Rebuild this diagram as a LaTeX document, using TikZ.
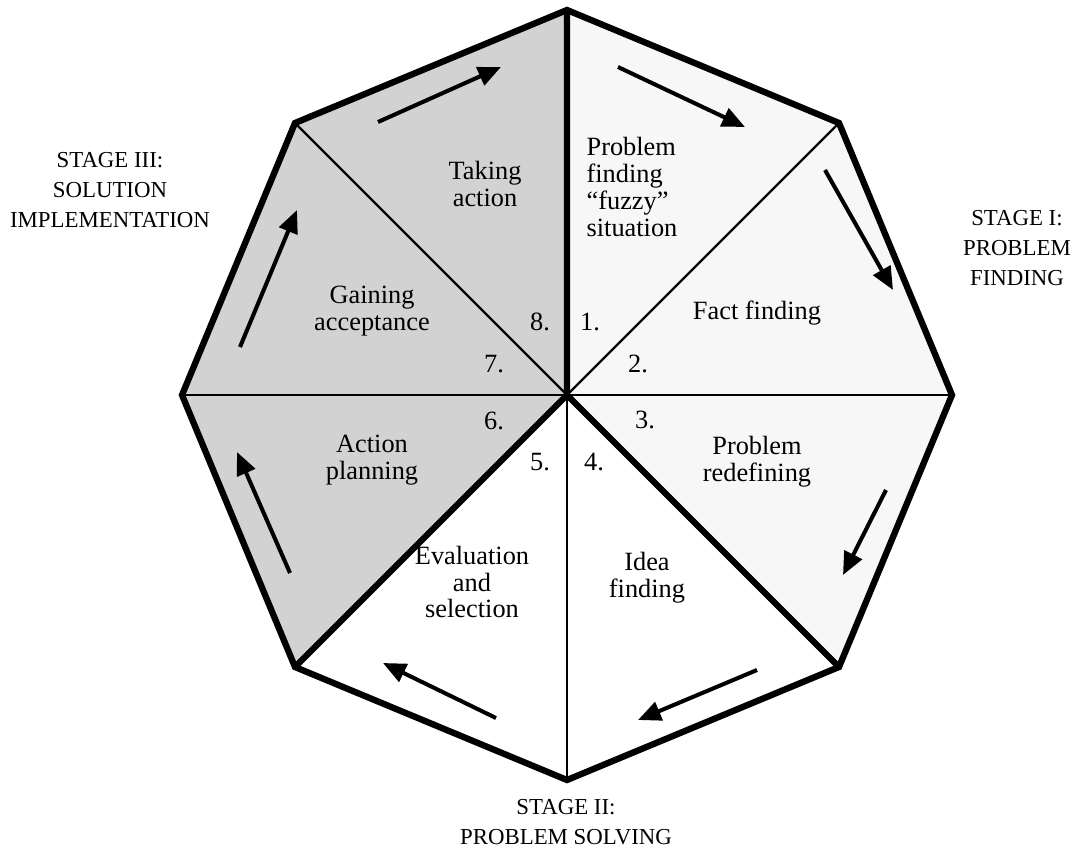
\documentclass[tikz,border=0pt]{standalone}
\usepackage{fontspec}
\setmainfont{Liberation Serif}
\usetikzlibrary{arrows.meta}
\colorlet{stageone}{gray!6}
\colorlet{stagethree}{gray!35}
\begin{document}
\begin{tikzpicture}[x=0.02cm,y=-0.02cm,
    step label/.style={font=\fontsize{15}{15.2}\selectfont,align=center,inner sep=0pt},
    stage label/.style={font=\fontsize{13}{17}\selectfont,align=center,inner sep=0pt},
    spoke/.style={line width=1.3pt},
    border/.style={line width=3.6pt,line join=miter},
    flow/.style={line width=2.3pt,-{Triangle[length=13pt,width=11pt]}}]
        \useasboundingbox (0,0) rectangle (1072,849);
        % corners of the octagon
        \coordinate (C) at (567,395);
        \coordinate (N) at (567,10);
        \coordinate (NE) at (839,123);
        \coordinate (E) at (952,395);
        \coordinate (SE) at (839,667);
        \coordinate (S) at (567,780);
        \coordinate (SW) at (295,667);
        \coordinate (W) at (182,395);
        \coordinate (NW) at (295,123);
        % shading of the stages
        \fill [color=stageone] (C) -- (N) -- (NE) -- (E) -- (SE) -- cycle;
        \fill [color=stagethree] (C) -- (SW) -- (W) -- (NW) -- (N) -- cycle;
        \draw [spoke] (C) -- (NE);
        \draw [spoke] (C) -- (E);
        \draw [spoke] (C) -- (S);
        \draw [spoke] (C) -- (W);
        \draw [spoke] (C) -- (NW);
        \draw [border] (N) -- (C) -- (SE);
        \draw [border] (C) -- (SW);
        \draw [border] (N) -- (NE) -- (E) -- (SE) -- (S) -- (SW) -- (W) -- (NW) -- cycle;
        % arrows round the rim
        \coordinate (a1) at (618,67);   \coordinate (b1) at (745,127);
        \coordinate (a2) at (825,170);  \coordinate (b2) at (893,290);
        \coordinate (a3) at (886,490);  \coordinate (b3) at (843,575);
        \coordinate (a4) at (757,670);  \coordinate (b4) at (638,720);
        \coordinate (a5) at (496,718);  \coordinate (b5) at (383,663);
        \coordinate (a6) at (290,573);  \coordinate (b6) at (237,452);
        \coordinate (a7) at (240,347);  \coordinate (b7) at (297,210);
        \coordinate (a8) at (378,122);  \coordinate (b8) at (501,67);
        \draw [flow] (a1) -- (b1);
        \draw [flow] (a2) -- (b2);
        \draw [flow] (a3) -- (b3);
        \draw [flow] (a4) -- (b4);
        \draw [flow] (a5) -- (b5);
        \draw [flow] (a6) -- (b6);
        \draw [flow] (a7) -- (b7);
        \draw [flow] (a8) -- (b8);
        % steps
        \node [step label,align=left] (fuzzy) at (632,187) {Problem\\finding\\``fuzzy''\\situation};
        \node [step label] (facts) at (757,313) {Fact finding};
        \node [step label] (redefine) at (757,462) {Problem\\redefining};
        \node [step label] (ideas) at (647,578) {Idea\\finding};
        \node [step label] (select) at (472,582) {Evaluation\\and\\selection};
        \node [step label] (plan) at (372,460) {Action\\planning};
        \node [step label] (accept) at (372,311) {Gaining\\acceptance};
        \node [step label] (act) at (485,184) {Taking\\action};
        \node [step label] (n1) at (590,322) {1.};
        \node [step label] (n2) at (638,364) {2.};
        \node [step label] (n3) at (645,420) {3.};
        \node [step label] (n4) at (594,462) {4.};
        \node [step label] (n5) at (540,462) {5.};
        \node [step label] (n6) at (494,421) {6.};
        \node [step label] (n7) at (494,364) {7.};
        \node [step label] (n8) at (540,322) {8.};
        % stages
        \node [stage label] (stage1) at (1017,248) {STAGE I:\\PROBLEM\\FINDING};
        \node [stage label] (stage2) at (566,822) {STAGE II:\\PROBLEM SOLVING};
        \node [stage label] (stage3) at (110,190) {STAGE III:\\SOLUTION\\IMPLEMENTATION};
\end{tikzpicture}
\end{document}
